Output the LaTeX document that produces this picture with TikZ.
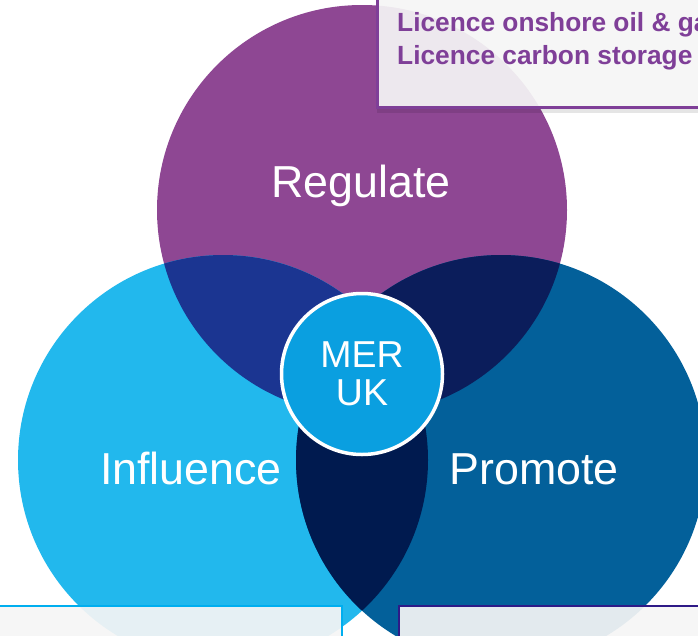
\documentclass[tikz,border=0pt]{standalone}
\usepackage{fontspec}
\setmainfont{Liberation Sans}
\usepackage{xcolor}
\usepackage{tikz}
\usetikzlibrary{positioning}

\definecolor{regpurple}{HTML}{8E4793}
\definecolor{infcyan}{HTML}{22B8ED}
\definecolor{problue}{HTML}{03609A}
\definecolor{lensleft}{HTML}{1B3591}
\definecolor{lensright}{HTML}{0B1D5B}
\definecolor{lensbottom}{HTML}{001A4F}
\definecolor{mercyan}{HTML}{0A9FE0}
\definecolor{licpurple}{HTML}{7F3F98}
\definecolor{boxgray}{HTML}{F5F5F5}
\definecolor{boxcyan}{HTML}{00AEEF}
\definecolor{boxindigo}{HTML}{2E1A87}

\begin{document}
\begin{tikzpicture}[
    x=1pt, y=-1pt,
    venn/.style={radius=205pt},
    venntext/.style={text=white, anchor=base, font=\fontsize{44.8}{48}\selectfont},
    boxfill/.style={fill=boxgray, fill opacity=0.93},
    lictext/.style={anchor=base west, inner sep=0pt, text=licpurple, font=\bfseries\fontsize{26.3}{33}\selectfont},
]
\useasboundingbox (0,0) rectangle (698,635);
% circle centres
\coordinate (reg) at (362,210);
\coordinate (inf) at (223,460);
\coordinate (pro) at (501,460);
\fill[regpurple] (reg) circle[venn];
\fill[infcyan] (inf) circle[venn];
\fill[problue] (pro) circle[venn];
% overlaps
\begin{scope}
\clip (inf) circle[venn];
\fill[lensbottom] (pro) circle[venn];
\end{scope}
\begin{scope}
\clip (reg) circle[venn];
\fill[lensleft] (inf) circle[venn];
\end{scope}
\begin{scope}
\clip (reg) circle[venn];
\fill[lensright] (pro) circle[venn];
\end{scope}
\node[venntext] (regtext) at (361,197) {Regulate};
\node[venntext] (inftext) at (191,484) {Influence};
\node[venntext] (protext) at (534,484) {Promote};
\node[circle, draw=white, line width=3.5pt, fill=mercyan, minimum size=161pt, inner sep=0pt,
      text=white, align=center, font=\fontsize{37.5}{38.5}\selectfont] (meruk) at (362,374) {MER\\UK};
% licence box
\fill[black, opacity=.1] (377,108.5) rectangle (710,113);
\fill[boxfill] (376,-5) rectangle (710,107);
\draw[licpurple, line width=3pt] (377.5,-5) -- (377.5,107) -- (710,107);
\node[lictext] (lic1) at (397,31) {Licence onshore oil \& ga};
\node[lictext] (lic2) at (397,64) {Licence carbon storage};
% lower boxes
\fill[boxfill] (-5,605) rectangle (343,640);
\draw[boxcyan, line width=2.5pt] (-5,606) -- (342,606) -- (342,640);
\fill[boxfill] (398,605) rectangle (710,640);
\draw[boxindigo, line width=2.5pt] (399,640) -- (399,606) -- (710,606);
\end{tikzpicture}
\end{document}
